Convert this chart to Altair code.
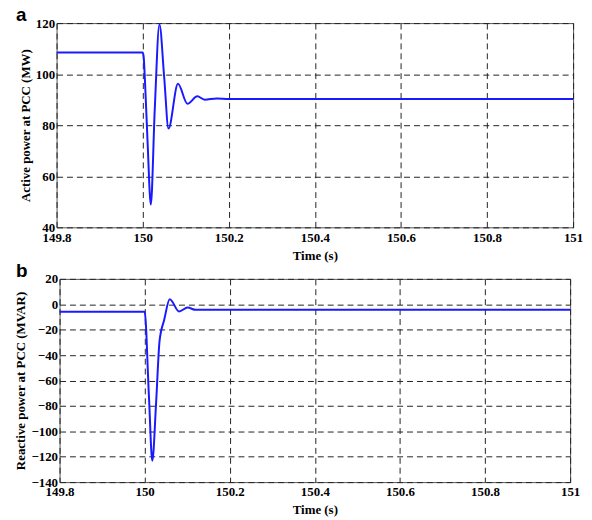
import altair as alt
import pandas as pd

# Panel a: active power at PCC (MW)
t_a = [149.8, 150.0, 150.0023, 150.0053, 150.0115, 150.019, 150.028, 150.039,
       150.050, 150.060, 150.082, 150.104, 150.127, 150.144, 150.172, 150.2, 151.0]
p_a = [108.5, 108.5, 106.9, 97.5, 73.0, 48.9, 85.8, 119.5,
       98.8, 78.7, 96.2, 88.4, 91.3, 90.0, 90.5, 90.3, 90.3]

# Panel b: reactive power at PCC (MVAR)
t_b = [149.8, 150.0, 150.010, 150.018, 150.027, 150.035, 150.046, 150.059,
       150.081, 150.101, 150.120, 151.0]
q_b = [-5.8, -5.8, -71.9, -123.2, -77.0, -29.0, -12.2, 3.9,
       -5.7, -2.6, -4.4, -4.4]

x_ticks = [149.8, 150.0, 150.2, 150.4, 150.6, 150.8, 151.0]
ya_ticks = [40, 60, 80, 100, 120]
yb_ticks = [-140, -120, -100, -80, -60, -40, -20, 0, 20]

SERIF = "Liberation Serif"
SANS = "Liberation Sans"
BLUE = "#1a1aff"

df_a = pd.DataFrame({"t": t_a, "v": p_a})
df_b = pd.DataFrame({"t": t_b, "v": q_b})


def panel(df, yticks, ydomain, ytitle, letter, letter_x, w, h):
    xaxis = alt.Axis(values=x_ticks, format=".4~r", title="Time (s)",
                     labelPadding=4, titlePadding=5)
    yaxis = alt.Axis(values=yticks, title=ytitle, labelPadding=2, titlePadding=3)
    line = alt.Chart(df).mark_line(color=BLUE, strokeWidth=2,
                                   interpolate="monotone").encode(
        x=alt.X("t:Q", scale=alt.Scale(domain=[149.8, 151.0], nice=False, zero=False),
                axis=xaxis),
        y=alt.Y("v:Q", scale=alt.Scale(domain=ydomain, nice=False, zero=False),
                axis=yaxis),
    )
    lab = alt.Chart(pd.DataFrame({"l": [letter]})).mark_text(
        font=SANS, fontWeight="bold", fontSize=19, align="left",
        baseline="alphabetic", color="black"
    ).encode(x=alt.value(letter_x), y=alt.value(-2), text="l:N")
    return alt.layer(line, lab).properties(width=w, height=h)


pa = panel(df_a, ya_ticks, [40, 120], "Active power at PCC (MW)", "a", -41, 521, 206)
pb = panel(df_b, yb_ticks, [-140, 20], "Reactive power at PCC (MVAR)", "b", -44, 515, 205)

chart = alt.vconcat(pa, pb, spacing=52, bounds="flush", center=True).properties(
    padding={"left": 6, "top": -5, "right": 0, "bottom": 0},
    background="white",
).configure_view(
    stroke="#555555", strokeWidth=1
).configure_axis(
    grid=True, gridDash=[6, 4], gridColor="#222222", gridWidth=1, gridOpacity=1,
    ticks=False, domain=False, labelFlush=False, labelOverlap=False, labelBound=False,
    labelFont=SERIF, labelFontWeight="bold", labelFontSize=13, labelColor="black",
    titleFont=SERIF, titleFontWeight="bold", titleFontSize=13, titleColor="black",
)

chart.save("out.html", embed_options={"renderer": "svg", "actions": False})
